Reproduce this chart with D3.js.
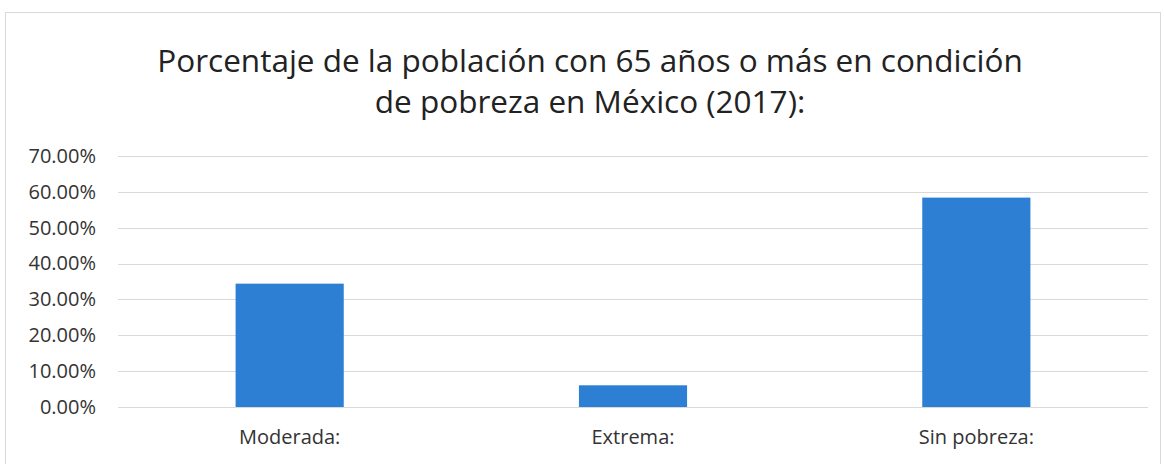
<!DOCTYPE html>
<html>
<head>
<meta charset="utf-8">
<script src="https://cdn.jsdelivr.net/npm/d3@7"></script>
<style>
  body { margin: 0; background: #fff; }
  text { font-family: "Open Sans", sans-serif; fill: #333; }
</style>
</head>
<body>
<script>
// data
var categories = ["Moderada:", "Extrema:", "Sin pobreza:"];
var values = [0.344, 0.0605, 0.584];
var yTicks = [0, 0.1, 0.2, 0.3, 0.4, 0.5, 0.6, 0.7];
var titleLines = ["Porcentaje de la población con 65 años o más en condición",
                  "de pobreza en México (2017):"];

var width = 1164,
    height = 464;
var margin = {top: 156, right: 16, bottom: 57, left: 118};

var svg = d3.select("body").append("svg")
    .attr("width", width)
    .attr("height", height);

// chart border
svg.append("rect")
    .attr("x", 5.5).attr("y", 12.5)
    .attr("width", width - 9).attr("height", height - 10)
    .style("fill", "none")
    .style("stroke", "#d9d9d9");

var x = d3.scaleBand()
    .domain(categories)
    .range([margin.left, width - margin.right])
    .paddingInner(0.685)
    .paddingOuter(0.3425);

var y = d3.scaleLinear()
    .domain([0, 0.7])
    .range([height - margin.bottom, margin.top]);

// gridlines
svg.append("g")
    .selectAll("line")
    .data(yTicks)
    .enter().append("line")
    .attr("x1", margin.left)
    .attr("x2", width - margin.right)
    .attr("y1", function(d){ return Math.round(y(d)) + 0.5; })
    .attr("y2", function(d){ return Math.round(y(d)) + 0.5; })
    .style("stroke", "#d9d9d9")
    .style("stroke-width", 1);

// y axis labels
var yAxis = d3.axisLeft(y)
    .tickValues(yTicks)
    .tickFormat(d3.format(".2%"))
    .tickSize(0)
    .tickPadding(22);

svg.append("g")
    .attr("transform", "translate(" + margin.left + ",0)")
    .call(yAxis)
    .call(function(g){ g.select(".domain").remove(); })
    .selectAll("text")
    .style("font-size", "20px")
    .style("fill", "#333");

// bars
svg.append("g")
    .selectAll("rect")
    .data(values)
    .enter().append("rect")
    .attr("x", function(d, i){ return x(categories[i]); })
    .attr("width", x.bandwidth())
    .attr("y", function(d){ return y(d); })
    .attr("height", function(d){ return y(0) - y(d); })
    .style("fill", "#2c7fd2");

// x axis labels
var xAxis = d3.axisBottom(x)
    .tickSize(0)
    .tickPadding(23);

svg.append("g")
    .attr("transform", "translate(0," + y(0) + ")")
    .call(xAxis)
    .call(function(g){ g.select(".domain").remove(); })
    .selectAll("text")
    .style("font-size", "20px")
    .style("fill", "#333");

// title
svg.append("g")
    .selectAll("text")
    .data(titleLines)
    .enter().append("text")
    .attr("x", 590)
    .attr("y", function(d, i){ return 72 + i * 41; })
    .attr("text-anchor", "middle")
    .style("font-size", "31.5px")
    .style("fill", "#222")
    .text(function(d){ return d; });
</script>
</body>
</html>
